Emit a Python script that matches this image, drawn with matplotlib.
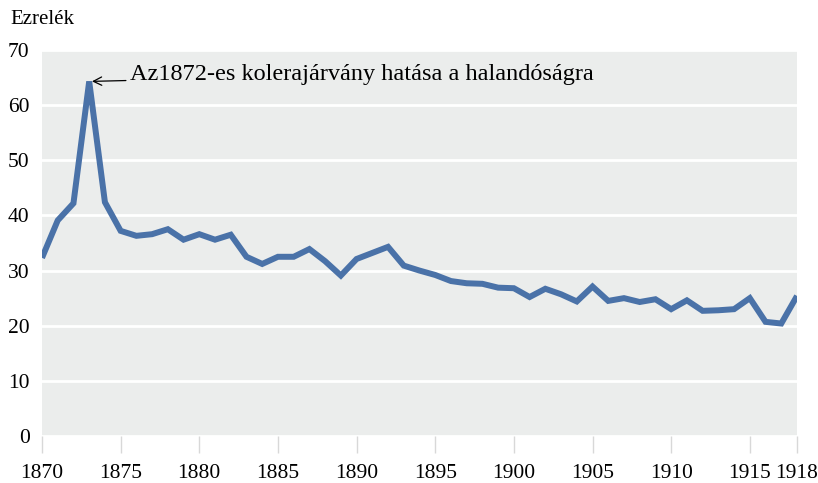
import numpy as np
import matplotlib
matplotlib.use('Agg')
import matplotlib.pyplot as plt

# Data (per mille)
years = list(range(1870, 1919))
rate = [32.3, 39.1, 42.2, 64.3, 42.4, 37.2, 36.3, 36.6, 37.5, 35.6,
        36.6, 35.6, 36.5, 32.5, 31.2, 32.5, 32.5, 33.9, 31.7, 29.1,
        32.1, 33.2, 34.3, 30.9, 30.0, 29.2, 28.1, 27.7, 27.6, 26.9,
        26.8, 25.2, 26.7, 25.7, 24.4, 27.1, 24.5, 25.0, 24.3, 24.8,
        23.0, 24.6, 22.7, 22.8, 23.0, 25.0, 20.7, 20.4, 25.4]
xticks = [1870, 1875, 1880, 1885, 1890, 1895, 1900, 1905, 1910, 1915, 1918]
yticks = [0, 10, 20, 30, 40, 50, 60, 70]
note = 'Az1872-es kolerajárvány hatása a halandóságra'

plt.rcParams['font.family'] = ['Liberation Serif', 'DejaVu Serif']

fig = plt.figure(figsize=(8.18, 4.83), dpi=100)
ax = fig.add_axes([42/818, 1-436/483, (797-42)/818, (436-50)/483])

ax.set_facecolor('#ebedec')
ax.plot(years, rate, color='#4a72a8', lw=4.3, solid_joinstyle='miter', solid_capstyle='butt', zorder=3)

ax.set_xlim(1870, 1918)
ax.set_ylim(0, 70)
ax.set_xticks(xticks)
ax.set_yticks(yticks)
ax.yaxis.grid(True, color='white', lw=2)
ax.set_axisbelow(True)
for s in ax.spines.values():
    s.set_visible(False)
ax.tick_params(axis='y', length=0, labelsize=15.5, pad=9)
ax.tick_params(axis='x', length=12, width=1, color='#d8d8d8', labelsize=15.5, pad=8)

# peak annotation
i = rate.index(max(rate))
ax.annotate(note, xy=(years[i], rate[i]), xytext=(years[i] + 2.6, 65.5),
            fontsize=17.5, va='center', ha='left',
            arrowprops=dict(arrowstyle='->', color='black', lw=0.9, mutation_scale=15, shrinkA=1, shrinkB=2))

fig.text(10/818, 1-19/483, 'Ezrelék', fontsize=15, va='center', ha='left')

fig.savefig('out.png', dpi=100)
